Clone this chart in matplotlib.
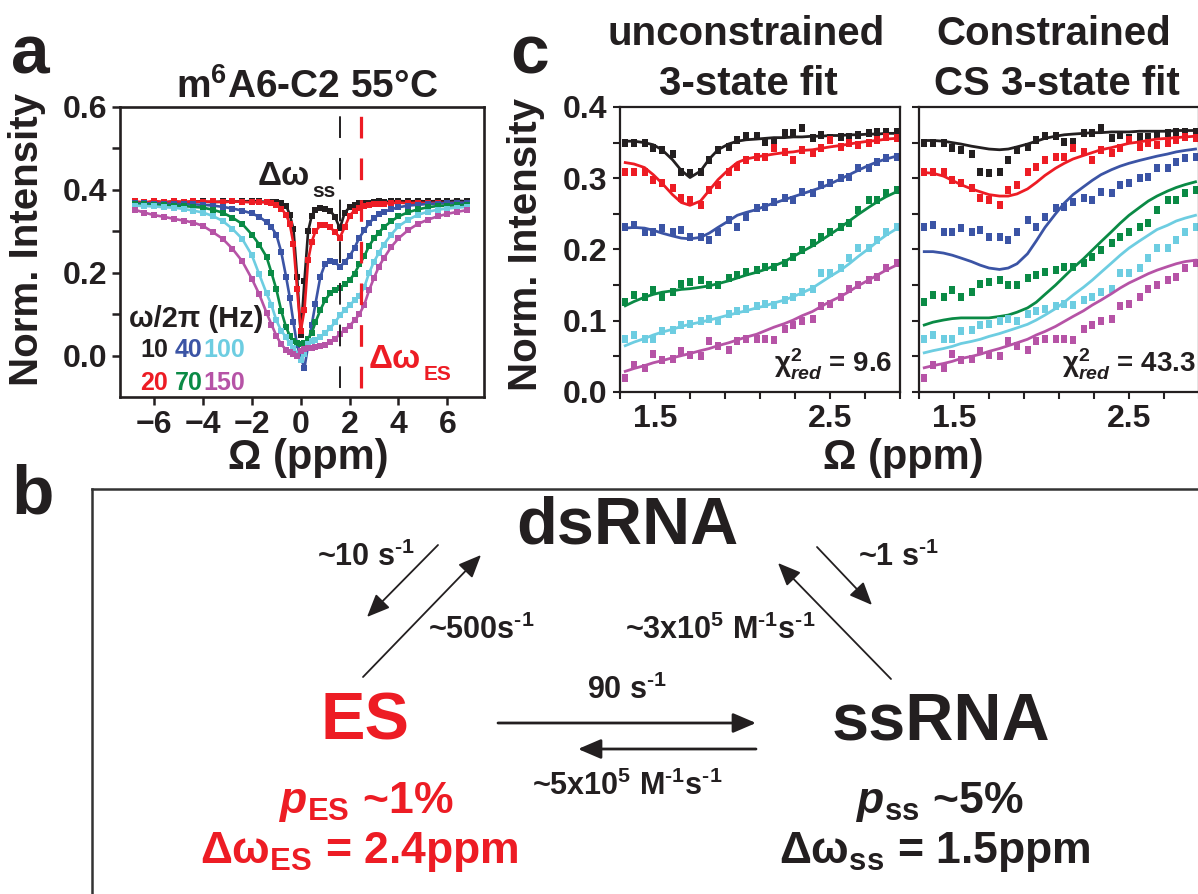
import matplotlib
matplotlib.use('Agg')
import matplotlib.pyplot as plt
from matplotlib.patches import FancyArrowPatch
from matplotlib.lines import Line2D

W, H = 1198, 894
plt.rcParams.update({
    'font.family': ['Liberation Sans', 'DejaVu Sans'],
    'font.weight': 'bold',
    'axes.labelweight': 'bold',
    'mathtext.fontset': 'custom',
    'mathtext.rm': 'Liberation Sans:bold',
    'mathtext.it': 'Liberation Sans:italic:bold',
    'mathtext.bf': 'Liberation Sans:bold',
    'mathtext.default': 'rm',
    'lines.scale_dashes': False,
})

BLACK = '#231f20'
RED = '#ed1c24'
BLUE = '#3b54a5'
GREEN = '#0a8a45'
CYAN = '#6dcde1'
MAGENTA = '#b653a6'

# ---------------- panel a data ----------------
omega_a = [-6.8, -6.4, -6.0, -5.6, -5.2, -4.8, -4.4, -4.0, -3.6, -3.2, -2.8, -2.4, -2.0, -1.7,
           -1.4, -1.2, -1.0, -0.8, -0.6, -0.45, -0.3, -0.15, 0.0, 0.15, 0.3, 0.45, 0.6, 0.8,
           1.0, 1.2, 1.4, 1.6, 1.8, 2.0, 2.2, 2.4, 2.6, 2.8, 3.0, 3.2, 3.4, 3.7, 4.0, 4.4,
           4.8, 5.2, 5.6, 6.0, 6.4, 6.8]
int10 = [.370, .368, .372, .370, .372, .370, .372, .372, .370, .372, .372, .372, .373, .372,
         .371, .370, .370, .368, .362, .340, .305, .190, .050, .180, .300, .338, .352, .356,
         .355, .350, .335, .307, .345, .358, .364, .368, .368, .369, .371, .372, .371, .372,
         .373, .372, .373, .372, .373, .372, .374, .372]
int20 = [.372, .370, .373, .370, .372, .371, .372, .371, .372, .370, .372, .371, .370, .370,
         .370, .368, .364, .355, .340, .318, .270, .160, .060, .110, .230, .275, .300, .314,
         .316, .310, .298, .285, .310, .338, .350, .357, .360, .363, .365, .366, .367, .368,
         .369, .368, .369, .368, .369, .368, .369, .368]
int40 = [.368, .368, .367, .367, .366, .366, .365, .364, .362, .359, .355, .350, .343, .335,
         .322, .310, .292, .250, .190, .140, .080, .025, -.005, -.030, .025, .075, .125, .190,
         .222, .228, .226, .214, .226, .240, .260, .285, .302, .320, .332, .341, .347, .353,
         .358, .362, .364, .366, .367, .368, .369, .369]
int70 = [.366, .365, .364, .363, .362, .361, .359, .357, .352, .345, .333, .318, .292, .268,
         .238, .200, .160, .108, .068, .048, .036, .030, .028, .030, .040, .055, .080, .110,
         .134, .150, .158, .163, .172, .182, .198, .220, .240, .265, .283, .297, .310, .324,
         .336, .346, .353, .358, .361, .362, .363, .364]
int100 = [.362, .361, .360, .358, .357, .354, .350, .345, .337, .325, .306, .282, .242, .196,
          .150, .122, .085, .060, .044, .030, .018, .005, -.010, .005, .028, .034, .038, .045,
          .055, .066, .080, .097, .110, .122, .133, .145, .165, .200, .227, .248, .268, .292,
          .312, .328, .340, .347, .352, .355, .357, .359]
int150 = [.352, .345, .339, .335, .330, .326, .321, .313, .298, .282, .258, .228, .185, .148,
          .103, .075, .048, .027, .014, .008, .004, .000, .010, .015, .018, .018, .020, .022,
          .026, .032, .040, .052, .062, .072, .085, .100, .123, .158, .188, .215, .235, .262,
          .283, .303, .318, .328, .336, .342, .347, .351]
dw_ss_ppm = 1.6
dw_es_ppm = 2.48

# ---------------- panel c data ----------------
omega_c = [1.33, 1.38, 1.44, 1.49, 1.54, 1.60, 1.65, 1.70, 1.76, 1.81, 1.86, 1.92, 1.97, 2.02,
           2.08, 2.13, 2.18, 2.24, 2.29, 2.34, 2.40, 2.45, 2.50, 2.56, 2.61, 2.66, 2.72, 2.77,
           2.82, 2.88]
c10 = [.349, .350, .349, .342, .340, .334, .309, .307, .309, .326, .340, .344, .354, .359,
       .359, .351, .351, .363, .363, .370, .356, .361, .356, .358, .358, .361, .363, .365, .365, .365]
c20 = [.309, .309, .309, .298, .293, .286, .272, .269, .262, .283, .290, .309, .316, .326,
       .330, .330, .342, .337, .326, .340, .335, .342, .354, .344, .349, .347, .349, .354, .358, .356]
c40 = [.232, .234, .225, .225, .230, .225, .227, .218, .218, .214, .225, .241, .232, .246,
       .258, .260, .267, .272, .269, .281, .279, .290, .293, .300, .302, .314, .314, .323, .328, .330]
c70 = [.127, .136, .134, .143, .134, .141, .152, .155, .157, .150, .150, .160, .164, .169,
       .171, .176, .176, .181, .190, .199, .209, .218, .225, .232, .237, .255, .269, .269, .279, .283]
c100 = [.075, .080, .075, .075, .085, .087, .094, .096, .099, .103, .099, .110, .113, .117,
        .120, .124, .122, .129, .134, .141, .145, .167, .167, .174, .188, .202, .202, .213, .225, .232]
c150 = [.019, .038, .033, .054, .045, .047, .057, .052, .050, .071, .064, .059, .071, .075,
        .075, .075, .073, .089, .094, .099, .103, .120, .124, .134, .145, .150, .157, .162, .174, .181]

fitU10 = [.352, .352, .350, .347, .340, .326, .311, .301, .310, .327, .340, .348, .352, .354,
          .355, .356, .357, .357, .358, .358, .359, .359, .360, .360, .361, .361, .362, .362, .363, .363]
fitU20 = [.322, .320, .315, .305, .293, .277, .266, .262, .268, .283, .298, .312, .322, .327,
          .330, .332, .334, .336, .337, .339, .340, .342, .344, .346, .348, .350, .352, .353, .355, .356]
fitU40 = [.230, .231, .230, .227, .223, .219, .216, .215, .217, .223, .231, .240, .248, .252,
          .256, .261, .265, .270, .274, .278, .283, .287, .292, .299, .305, .311, .318, .323, .327, .331]
fitU70 = [.121, .127, .133, .137, .140, .142, .144, .145, .147, .149, .152, .156, .160, .164,
          .168, .172, .177, .183, .190, .197, .205, .213, .221, .231, .240, .249, .259, .267, .274, .281]
fitU100 = [.065, .070, .075, .080, .084, .088, .092, .095, .098, .101, .104, .108, .111, .114,
           .118, .121, .125, .129, .134, .139, .146, .154, .162, .171, .180, .190, .201, .211, .220, .229]
fitU150 = [.029, .033, .037, .041, .044, .048, .051, .054, .058, .061, .065, .069, .073, .077,
           .081, .086, .091, .096, .101, .107, .113, .120, .127, .134, .141, .149, .157, .164, .171, .178]

fitC10 = [.353, .353, .352, .350, .348, .345, .343, .341, .340, .341, .344, .348, .352, .356,
          .359, .361, .362, .363, .364, .364, .365, .365, .365, .366, .366, .366, .366, .367, .367, .367]
fitC20 = [.308, .307, .303, .297, .291, .285, .281, .277, .275, .275, .278, .285, .294, .304,
          .314, .321, .327, .332, .336, .340, .343, .346, .349, .351, .353, .355, .356, .357, .358, .359]
fitC40 = [.197, .197, .195, .192, .188, .183, .178, .174, .172, .174, .180, .194, .212, .231,
          .250, .265, .277, .288, .297, .305, .312, .317, .321, .325, .328, .331, .334, .337, .339, .341]
fitC70 = [.094, .098, .101, .103, .104, .104, .104, .104, .106, .108, .112, .118, .126, .137,
          .150, .162, .174, .187, .199, .211, .225, .237, .248, .259, .268, .275, .282, .287, .291, .295]
fitC100 = [.055, .058, .061, .064, .068, .071, .074, .078, .082, .086, .090, .095, .101, .108,
           .117, .126, .136, .147, .157, .168, .181, .192, .202, .212, .220, .228, .234, .240, .244, .248]
fitC150 = [.034, .037, .040, .043, .047, .050, .053, .057, .061, .065, .069, .074, .080, .085,
           .092, .099, .106, .114, .122, .129, .138, .146, .153, .160, .166, .171, .176, .180, .183, .185]

rf_labels = ['10', '40', '100', '20', '70', '150']

# ---------------- helpers ----------------
fig = plt.figure(figsize=(W / 100, H / 100), dpi=100)


def fx(px):
    return px / W


def fy(py):
    return 1 - py / H


def rect(l, t, r, b):
    return [fx(l), fy(b), (r - l) / W, (b - t) / H]


def ftext(x, y, s, **kw):
    kw.setdefault('color', BLACK)
    kw.setdefault('fontweight', 'bold')
    return fig.text(fx(x), fy(y), s, transform=fig.transFigure, **kw)


def style_axes(ax, lw):
    for sp in ax.spines.values():
        sp.set_linewidth(lw)
        sp.set_color(BLACK)


# ---------------- panel a ----------------
axa = fig.add_axes(rect(120, 107, 484, 397))
series_a = [(int10, BLACK), (int20, RED), (int40, BLUE), (int70, GREEN), (int100, CYAN), (int150, MAGENTA)]
for ys, col in series_a:
    axa.plot(omega_a, ys, '-', color=col, lw=1.9, marker='s', ms=4.0, mew=0)
axa.axvline(dw_ss_ppm, color=BLACK, lw=1.4, linestyle=(23.5, (15.6, 14.4)))
axa.axvline(dw_es_ppm, color=RED, lw=2.3, linestyle=(23.5, (15.6, 14.4)))
axa.set_xlim(-7.4, 7.5)
axa.set_ylim(-0.1, 0.6)
axa.set_xticks([-6, -4, -2, 0, 2, 4, 6])
axa.set_xticklabels(['\u22126', '\u22124', '\u22122', '0', '2', '4', '6'])
axa.set_yticks([0.0, 0.2, 0.4, 0.6])
axa.set_yticklabels(['0.0', '0.2', '0.4', '0.6'])
axa.set_yticks([0.1, 0.3, 0.5], minor=True)
axa.tick_params(which='both', direction='out', length=6, width=1.8, colors=BLACK,
                labelsize=23, pad=3)
style_axes(axa, 1.9)

ftext(307, 98, r'm$^{6}$A6-C2 55°C', ha='center', va='baseline', fontsize=28)
ftext(27, 240, 'Norm. Intensity', rotation=90, ha='center', va='center', fontsize=29)
ftext(308, 458, 'Ω (ppm)', ha='center', va='center', fontsize=30)
ftext(258, 185, 'Δω', ha='left', va='baseline', fontsize=24)
ftext(312, 197, 'ss', ha='left', va='baseline', fontsize=15)
ftext(369, 368, 'Δω', ha='left', va='baseline', fontsize=24, color=RED)
ftext(424, 380, 'ES', ha='left', va='baseline', fontsize=15, color=RED)
ftext(129, 327, 'ω/2π (Hz)', ha='left', va='baseline', fontsize=21)
rf_cols = [BLACK, BLUE, CYAN, RED, GREEN, MAGENTA]
rf_x = [140, 175, 203, 140, 175, 203]
rf_y = [357, 357, 357, 390, 390, 390]
for lab, col, xx, yy in zip(rf_labels, rf_cols, rf_x, rf_y):
    ftext(xx, yy, lab, ha='left', va='baseline', fontsize=18, color=col)

# ---------------- panel c ----------------
colors = [BLACK, RED, BLUE, GREEN, CYAN, MAGENTA]
cdata = [c10, c20, c40, c70, c100, c150]
fitsU = [fitU10, fitU20, fitU40, fitU70, fitU100, fitU150]
fitsC = [fitC10, fitC20, fitC40, fitC70, fitC100, fitC150]
rect_marker = [(-0.4, -0.5), (0.4, -0.5), (0.4, 0.5), (-0.4, 0.5), (-0.4, -0.5)]

axL = fig.add_axes(rect(620, 107, 900, 392))
axR = fig.add_axes(rect(919, 107, 1199, 392))
for ax, fits in [(axL, fitsU), (axR, fitsC)]:
    for d, f, col in zip(cdata, fits, colors):
        ax.plot(omega_c, d, linestyle='none', marker=rect_marker, color=col, ms=5.4, mew=0)
        ax.plot(omega_c, f, '-', color=col, lw=2.0)
    ax.set_xlim(1.3, 2.9)
    ax.set_ylim(0, 0.4)
    ax.set_xticks([1.5, 2.5])
    ax.set_xticklabels(['1.5', '2.5'])
    ax.set_xticks([1.3, 1.7, 1.9, 2.1, 2.3, 2.7, 2.9], minor=True)
    ax.set_yticks([0.0, 0.1, 0.2, 0.3, 0.4])
    ax.set_yticklabels(['0.0', '0.1', '0.2', '0.3', '0.4'])
    ax.set_yticks([0.05, 0.15, 0.25, 0.35], minor=True)
    ax.tick_params(which='both', direction='out', length=5, width=1.5, colors=BLACK,
                   labelsize=23, pad=4)
    style_axes(ax, 1.6)
axR.tick_params(labelleft=False)

ftext(746, 45, 'unconstrained', ha='center', va='baseline', fontsize=29)
ftext(748, 95, '3-state fit', ha='center', va='baseline', fontsize=29)
ftext(1054, 45, 'Constrained', ha='center', va='baseline', fontsize=29)
ftext(1057, 95, 'CS 3-state fit', ha='center', va='baseline', fontsize=29)
ftext(526, 245, 'Norm. Intensity', rotation=90, ha='center', va='center', fontsize=29)
ftext(903, 458, 'Ω (ppm)', ha='center', va='center', fontsize=30)
ftext(892, 372, r'$\chi^{2}_{\mathit{red}}$ = 9.6', ha='right', va='baseline', fontsize=20)
ftext(1196, 372, r'$\chi^{2}_{\mathit{red}}$ = 43.3', ha='right', va='baseline', fontsize=20)

# ---------------- panel labels ----------------
ftext(30, 74, 'a', ha='center', va='baseline', fontsize=50)
ftext(33, 514, 'b', ha='center', va='baseline', fontsize=50)
ftext(530, 74, 'c', ha='center', va='baseline', fontsize=50)

# ---------------- panel b ----------------
fig.add_artist(Line2D([fx(92), fx(1200)], [fy(489), fy(489)], transform=fig.transFigure,
                      color='#333333', lw=1.8))
fig.add_artist(Line2D([fx(92), fx(92)], [fy(489), fy(900)], transform=fig.transFigure,
                      color='#333333', lw=1.8))

ftext(627, 527, 'dsRNA', ha='center', va='center', fontsize=48)
ftext(365, 722, 'ES', ha='center', va='center', fontsize=48, color=RED)
ftext(941, 722, 'ssRNA', ha='center', va='center', fontsize=48)

ftext(366, 557, r'~10 s$^{\text{-1}}$', ha='center', va='center', fontsize=22)
ftext(481, 630, r'~500s$^{\text{-1}}$', ha='center', va='center', fontsize=22)
ftext(898, 557, r'~1 s$^{\text{-1}}$', ha='center', va='center', fontsize=22)
ftext(720, 630, r'~3x10$^{5}$ M$^{\text{-1}}$s$^{\text{-1}}$', ha='center', va='center', fontsize=22)
ftext(627, 690, r'90 s$^{\text{-1}}$', ha='center', va='center', fontsize=22)
ftext(627, 786, r'~5x10$^{5}$ M$^{\text{-1}}$s$^{\text{-1}}$', ha='center', va='center', fontsize=22)

ftext(279, 813, r'$\mathit{p}_{\mathrm{ES}}$ ~1%', ha='left', va='baseline', fontsize=32, color=RED)
ftext(200, 863, r'Δω$_{\mathrm{ES}}$ = 2.4ppm', ha='left', va='baseline', fontsize=32, color=RED)
ftext(856, 813, r'$\mathit{p}_{\mathrm{ss}}$ ~5%', ha='left', va='baseline', fontsize=32)
ftext(779, 863, r'Δω$_{\mathrm{ss}}$ = 1.5ppm', ha='left', va='baseline', fontsize=32)


def arrow(p0, p1, lw=1.3):
    a = FancyArrowPatch((fx(p0[0]), fy(p0[1])), (fx(p1[0]), fy(p1[1])),
                        transform=fig.transFigure,
                        arrowstyle='-|>,head_length=14,head_width=6', mutation_scale=1,
                        lw=lw, color=BLACK, shrinkA=0, shrinkB=0)
    fig.add_artist(a)


arrow((438, 545), (367, 617))
arrow((363, 677), (481, 555))
arrow((817, 547), (872, 605))
arrow((891, 679), (778, 563))
arrow((498, 723), (756, 723), lw=2.0)
arrow((756, 749), (578, 749), lw=2.0)

fig.savefig('out.png', dpi=100)
